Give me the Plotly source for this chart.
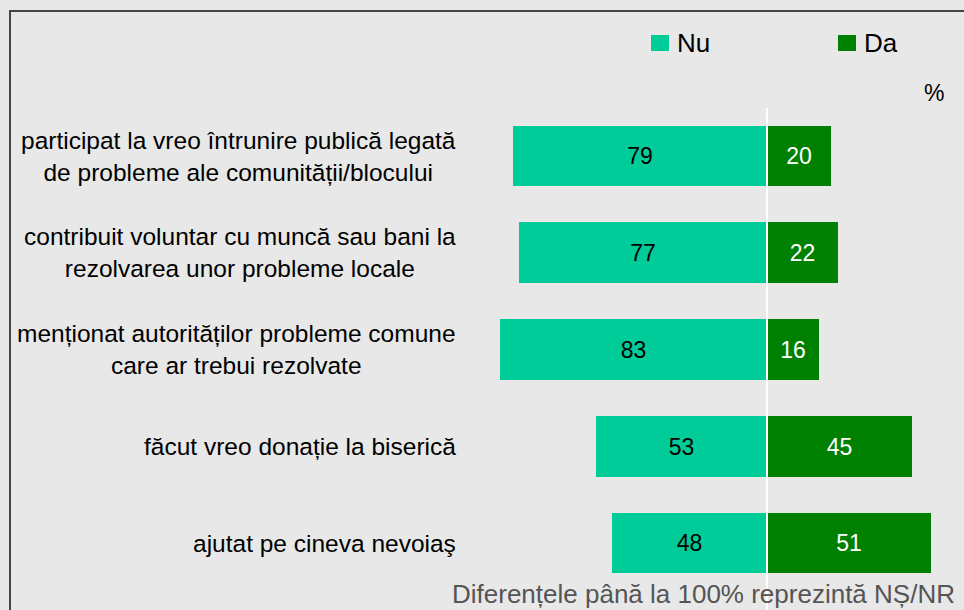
import plotly.graph_objects as go

categories = [
    "participat la vreo întrunire publică legată<br>de probleme ale comunității/blocului",
    "contribuit voluntar cu muncă sau bani la<br>rezolvarea unor probleme locale",
    "menționat autorităților probleme comune<br>care ar trebui rezolvate",
    "făcut vreo donație la biserică",
    "ajutat pe cineva nevoiaş",
]
nu_values = [79, 77, 83, 53, 48]
da_values = [20, 22, 16, 45, 51]
series_names = ["Nu", "Da"]
footnote = "Diferențele până la 100% reprezintă NȘ/NR"

W, H = 964, 610
FONT = "Arial, Liberation Sans, sans-serif"
NU_COLOR = "#00CC99"
DA_COLOR = "#008000"
BG = "#E8E8E8"

idx = list(range(len(categories)))

fig = go.Figure()
fig.add_trace(go.Bar(
    y=idx, x=[-v for v in nu_values], orientation="h", name=series_names[0],
    marker=dict(color=NU_COLOR, line=dict(width=0)), width=0.63,
    text=[str(v) for v in nu_values], textposition="inside",
    insidetextanchor="middle", textangle=0,
    textfont=dict(family=FONT, size=23, color="black"),
    showlegend=False, hoverinfo="skip",
))
fig.add_trace(go.Bar(
    y=idx, x=da_values, orientation="h", name=series_names[1],
    marker=dict(color=DA_COLOR, line=dict(width=0)), width=0.63,
    text=[str(v) for v in da_values], textposition="inside",
    insidetextanchor="middle", textangle=0,
    textfont=dict(family=FONT, size=23, color="white"),
    showlegend=False, hoverinfo="skip",
))

px_per_unit = 3.22
zero_px = 767
xr = [-zero_px / px_per_unit, (W - zero_px) / px_per_unit]
row0, row_step = 156, 96.75
yr = [(H - row0) / row_step, -row0 / row_step]

def px(x):
    return x / W

def py(y):
    return 1 - y / H

annotations = []
for i, c in enumerate(categories):
    annotations.append(dict(
        x=px(458), xref="paper", y=i, yref="y", text=c, showarrow=False,
        xanchor="right", yanchor="middle", align="center",
        font=dict(family=FONT, size=24.5, color="black"),
    ))

# legend (manual)
leg = [(651, series_names[0], NU_COLOR), (838, series_names[1], DA_COLOR)]
shapes = []
for x0, name, col in leg:
    shapes.append(dict(type="rect", xref="paper", yref="paper",
                       x0=px(x0), x1=px(x0 + 18), y0=py(51), y1=py(35),
                       fillcolor=col, line=dict(width=0)))
    annotations.append(dict(x=px(x0 + 24), xref="paper", y=py(43), yref="paper",
                            text=name, showarrow=False, xanchor="left", yanchor="middle",
                            font=dict(family=FONT, size=26, color="black")))

annotations.append(dict(x=px(946), xref="paper", y=py(93), yref="paper", text="%",
                        showarrow=False, xanchor="right", yanchor="middle",
                        font=dict(family=FONT, size=23, color="black")))
annotations.append(dict(x=px(957), xref="paper", y=py(594), yref="paper", text=footnote,
                        showarrow=False, xanchor="right", yanchor="middle",
                        font=dict(family=FONT, size=26, color="#555555")))

# zero line
shapes.append(dict(type="line", xref="x", yref="paper", x0=0, x1=0,
                   y0=0, y1=py(108), line=dict(color="white", width=2), layer="above"))
# border
shapes.append(dict(type="path", xref="paper", yref="paper",
                   path=f"M {px(10)},{0} L {px(10)},{py(11)} L 1,{py(11)}",
                   line=dict(color="#444444", width=2)))

fig.update_layout(
    width=W, height=H, margin=dict(l=0, r=0, t=0, b=0),
    paper_bgcolor=BG, plot_bgcolor=BG, barmode="relative", bargap=0,
    xaxis=dict(range=xr, visible=False, fixedrange=True),
    yaxis=dict(range=yr, visible=False, fixedrange=True),
    annotations=annotations, shapes=shapes,
    font=dict(family=FONT),
)

fig.write_html(
    "out.html",
    config={"displayModeBar": False},
    post_script="document.body.style.margin='0';document.body.style.overflow='hidden';",
)
